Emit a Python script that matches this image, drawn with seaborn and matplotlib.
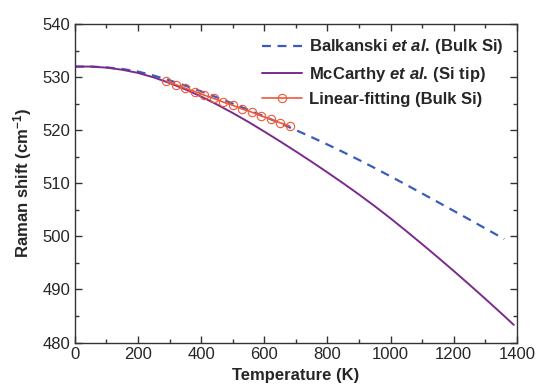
import matplotlib
matplotlib.use("Agg")
import matplotlib.pyplot as plt
from matplotlib.ticker import MultipleLocator
import seaborn as sns
import pandas as pd

# Balkanski et al. (bulk Si)
balk_T = [0, 50, 100, 150, 200, 250, 300, 350, 400, 450, 500, 550, 600, 650,
          700, 750, 800, 850, 900, 950, 1000, 1050, 1100, 1150, 1200, 1250,
          1300, 1350, 1360]
balk_w = [532.0, 532.0, 531.85, 531.55, 531.05, 530.3, 529.4, 528.4, 527.32,
          526.19, 525.02, 523.82, 522.59, 521.33, 520.03, 518.69, 517.31,
          515.88, 514.4, 512.87, 511.3, 509.7, 508.08, 506.45, 504.81, 503.16,
          501.5, 499.83, 499.5]

# McCarthy et al. (Si tip)
mcc_T = [0, 50, 100, 150, 200, 250, 300, 350, 400, 450, 500, 550, 600, 650,
         700, 750, 800, 850, 900, 950, 1000, 1050, 1100, 1150, 1200, 1250,
         1300, 1350, 1390]
mcc_w = [532.0, 532.0, 531.8, 531.4, 530.8, 529.95, 528.9, 527.7, 526.35,
         524.85, 523.25, 521.55, 519.75, 517.9, 516.0, 514.05, 512.05, 510.0,
         507.88, 505.68, 503.38, 500.98, 498.53, 496.03, 493.48, 490.88,
         488.23, 485.53, 483.33]

# Linear fit to bulk Si
fit_T = [290, 320, 350, 380, 410, 440, 470, 500, 530, 560, 590, 620, 650, 680]
fit_w = [529.25, 528.6, 527.9, 527.3, 526.6, 526.0, 525.3, 524.7, 524.0,
         523.4, 522.7, 522.1, 521.4, 520.8]

sns.set_theme(style="ticks")
plt.rcParams["font.family"] = ["Liberation Sans", "DejaVu Sans"]
plt.rcParams["mathtext.fontset"] = "custom"
plt.rcParams["mathtext.rm"] = "Liberation Sans:bold"
plt.rcParams["mathtext.it"] = "Liberation Sans:italic:bold"
plt.rcParams["mathtext.bf"] = "Liberation Sans:bold"

fig = plt.figure(figsize=(5.39, 3.89), dpi=100)
ax = fig.add_axes([0.139, 0.1195, 0.82, 0.8185])

df_b = pd.DataFrame({"T": balk_T, "w": balk_w})
df_m = pd.DataFrame({"T": mcc_T, "w": mcc_w})
df_f = pd.DataFrame({"T": fit_T, "w": fit_w})

sns.lineplot(data=df_b, x="T", y="w", ax=ax, color="#3a5cbd", lw=1.6,
             linestyle=(0, (4, 3)), label=r"Balkanski $\mathit{et\ al.}\,$(Bulk Si)")
sns.lineplot(data=df_m, x="T", y="w", ax=ax, color="#7a2b8c", lw=1.4,
             label=r"McCarthy $\mathit{et\ al.}\,$(Si tip)")
sns.lineplot(data=df_f, x="T", y="w", ax=ax, color="#f0583a", lw=1.2,
             marker="o", markersize=6, markerfacecolor="none",
             markeredgecolor="#f0583a", markeredgewidth=0.8,
             label="Linear-fitting (Bulk Si)")

ax.set_xlim(0, 1400)
ax.set_ylim(480, 540)
ax.xaxis.set_major_locator(MultipleLocator(200))
ax.xaxis.set_minor_locator(MultipleLocator(100))
ax.yaxis.set_major_locator(MultipleLocator(10))
ax.yaxis.set_minor_locator(MultipleLocator(5))
ax.tick_params(which="both", direction="in", top=True, right=True,
               labelsize=12, color="#333333", width=1.0)
ax.tick_params(which="major", length=5)
ax.tick_params(which="minor", length=3)
for s in ax.spines.values():
    s.set_linewidth(1.0)
    s.set_color("#333333")

ax.set_xlabel("Temperature (K)", fontsize=12, fontweight="bold", labelpad=4)
ax.set_ylabel(r"Raman shift (cm$^{-1}$)", fontsize=12, fontweight="bold", labelpad=6)

leg = ax.legend(loc="upper right", frameon=False, fontsize=12,
                handlelength=2.4, handletextpad=0.45, labelspacing=0.5,
                borderaxespad=0.4)
for t in leg.get_texts():
    t.set_fontweight("bold")

fig.savefig("out.png", dpi=100)
